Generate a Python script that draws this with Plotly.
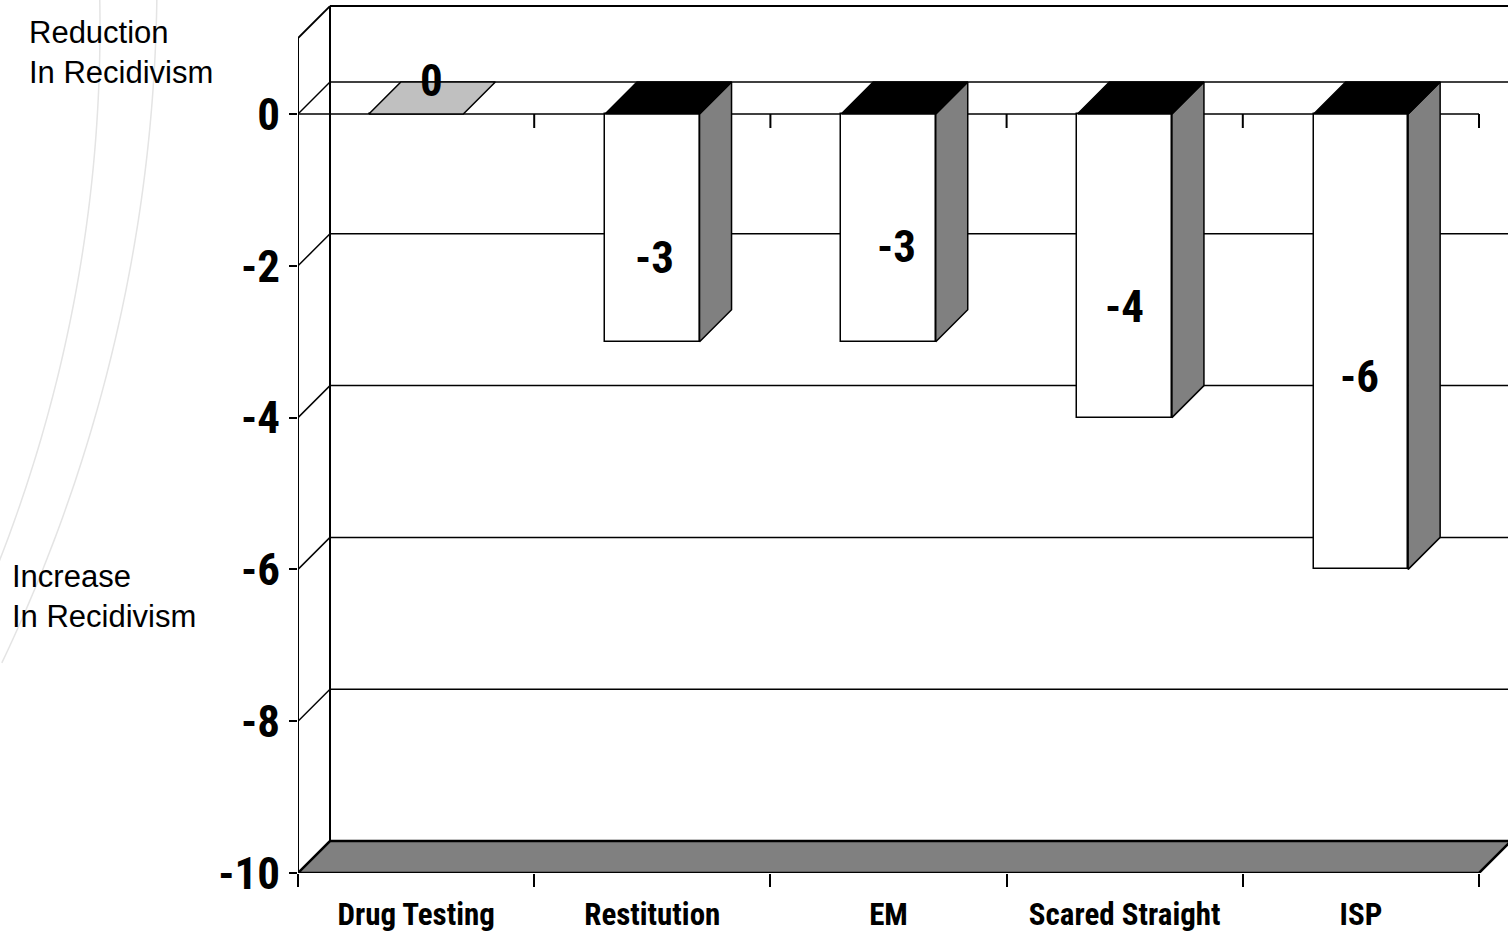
import numpy as np
import plotly.graph_objects as go

# ---------------- data ----------------
categories = ["Drug Testing", "Restitution", "EM", "Scared Straight", "ISP"]
values = [0, -3, -3, -4, -6]
value_labels = ["0", "-3", "-3", "-4", "-6"]
y_tick_vals = [0, -2, -4, -6, -8, -10]
y_tick_text = ["0", "-2", "-4", "-6", "-8", "-10"]

# label placement (axis units), kept apart from the data
label_dx = [0.064, 0.011, 0.032, 0.0, -0.008]
label_y = [0.435, -1.884, -1.752, -2.53, -3.465]

# ---------------- layout geometry ----------------
W, H = 1508, 937
ML, MR, MT, MB = 298, 0, 5, 64
plot_w = W - ML - MR
plot_h = H - MT - MB
CAT_PX = 236.2          # pixels per category
UNIT_PX = 75.9          # pixels per y unit
X0 = -0.5
X_END = len(categories) - 0.5
x_range = [X0, X0 + plot_w / CAT_PX]
y_range = [-10, -10 + plot_h / UNIT_PX]
DX = 32 / CAT_PX        # depth offset
DY = 32 / UNIT_PX
BAR_W = 0.4
WALL_TOP = 1.0
Y_MIN = min(y_tick_vals)

NARROW = "Roboto Condensed, Liberation Sans Narrow, Arial Narrow, sans-serif"
REG = "Liberation Sans, Arial, sans-serif"

def px_x(px):
    return (px - ML) / plot_w

def px_y(py):
    return (H - MB - py) / plot_h

fig = go.Figure()

shapes = []

def seg(x0, y0, x1, y1, width=2):
    shapes.append(dict(type="line", xref="x", yref="y", x0=x0, y0=y0, x1=x1, y1=y1,
                       line=dict(color="black", width=width), layer="below"))

# background decorative arcs
for cx, cy, r, a0, a1 in [(-1369, 26.6, 1469, -3.5, 23.0), (-1436, -22.9, 1593, -1.0, 25.5)]:
    t = np.radians(np.linspace(a0, a1, 80))
    xs = cx + r * np.cos(t)
    ys = cy + r * np.sin(t)
    d = "M " + " L ".join(f"{px_x(a):.5f},{px_y(b):.5f}" for a, b in zip(xs, ys))
    shapes.append(dict(type="path", xref="paper", yref="paper", path=d,
                       line=dict(color="#e4e4e4", width=1.5), layer="below"))

# floor
shapes.append(dict(type="path", xref="x", yref="y",
                   path=f"M {X0},{Y_MIN} L {X_END},{Y_MIN} L {X_END+DX},{Y_MIN+DY} L {X0+DX},{Y_MIN+DY} Z",
                   fillcolor="#808080", line=dict(color="black", width=2.5), layer="below"))

# walls
seg(X0, Y_MIN, X0, WALL_TOP)
seg(X0 + DX, Y_MIN + DY, X0 + DX, WALL_TOP + DY)
seg(X0, WALL_TOP, X0 + DX, WALL_TOP + DY)
seg(X0 + DX, WALL_TOP + DY, x_range[1] + 1, WALL_TOP + DY)

# gridlines on side wall and back wall
for v in y_tick_vals:
    if v == Y_MIN:
        continue
    seg(X0, v, X0 + DX, v + DY, 1.5)
    seg(X0 + DX, v + DY, x_range[1] + 1, v + DY, 1.5)

# front zero line with its ticks
seg(X0, 0, X_END, 0, 1.5)
for b in np.arange(X0 + 1, X_END + 0.01, 1.0):
    seg(b, 0, b, -14 / UNIT_PX, 2)

# ---------------- bars ----------------
idx = list(range(len(categories)))
fig.add_trace(go.Bar(x=idx, y=values, width=BAR_W, base=0,
                     marker=dict(color="white", line=dict(color="black", width=1.5)),
                     hoverinfo="skip", showlegend=False))

for i, v in enumerate(values):
    xl = i - BAR_W / 2
    xr = i + BAR_W / 2
    # side face
    if v != 0:
        fig.add_trace(go.Scatter(x=[xr, xr + DX, xr + DX, xr, xr], y=[0, DY, v + DY, v, 0],
                                 mode="lines", fill="toself", fillcolor="#808080",
                                 line=dict(color="black", width=1.5), hoverinfo="skip",
                                 showlegend=False))
    # top face
    fig.add_trace(go.Scatter(x=[xl, xr, xr + DX, xl + DX, xl], y=[0, 0, DY, DY, 0],
                             mode="lines", fill="toself",
                             fillcolor="#C0C0C0" if v == 0 else "black",
                             line=dict(color="black", width=1.5), hoverinfo="skip",
                             showlegend=False))

annotations = []
for i, t in enumerate(value_labels):
    annotations.append(dict(x=i + label_dx[i], y=label_y[i], xref="x", yref="y", text=t,
                            showarrow=False, xanchor="center", yanchor="middle",
                            font=dict(family=NARROW, size=45, color="black", weight="bold")))

annotations.append(dict(x=px_x(27), y=px_y(13), xref="paper", yref="paper",
                        text="Reduction<br>In Recidivism", showarrow=False,
                        xanchor="left", yanchor="top", align="left",
                        font=dict(family=REG, size=31, color="black")))
annotations.append(dict(x=px_x(10), y=px_y(557), xref="paper", yref="paper",
                        text="Increase<br>In Recidivism", showarrow=False,
                        xanchor="left", yanchor="top", align="left",
                        font=dict(family=REG, size=31, color="black")))

fig.update_layout(
    width=W, height=H,
    margin=dict(l=ML, r=MR, t=MT, b=MB, pad=0),
    paper_bgcolor="white", plot_bgcolor="rgba(0,0,0,0)",
    shapes=shapes, annotations=annotations,
    showlegend=False, bargap=0,
    xaxis=dict(range=x_range, tickmode="array", tickvals=idx, ticktext=categories,
               ticks="", showgrid=False, zeroline=False, showline=False,
               tickfont=dict(family=NARROW, size=31, color="black", weight="bold"),
               ticklabelstandoff=20,
               minor=dict(tickmode="array", tickvals=list(np.arange(X0, X_END + 0.01, 1.0)),
                          ticks="outside", ticklen=13, tickwidth=2, tickcolor="black",
                          showgrid=False)),
    yaxis=dict(range=y_range, tickmode="array", tickvals=y_tick_vals, ticktext=y_tick_text,
               ticks="outside", ticklen=8, tickwidth=2, tickcolor="black",
               showgrid=False, zeroline=False, showline=False,
               tickfont=dict(family=NARROW, size=45, color="black", weight="bold"),
               ticklabelstandoff=0),
)

fig.write_html("out.html", config={"displayModeBar": False},
               post_script="document.body.style.margin='0px';")
